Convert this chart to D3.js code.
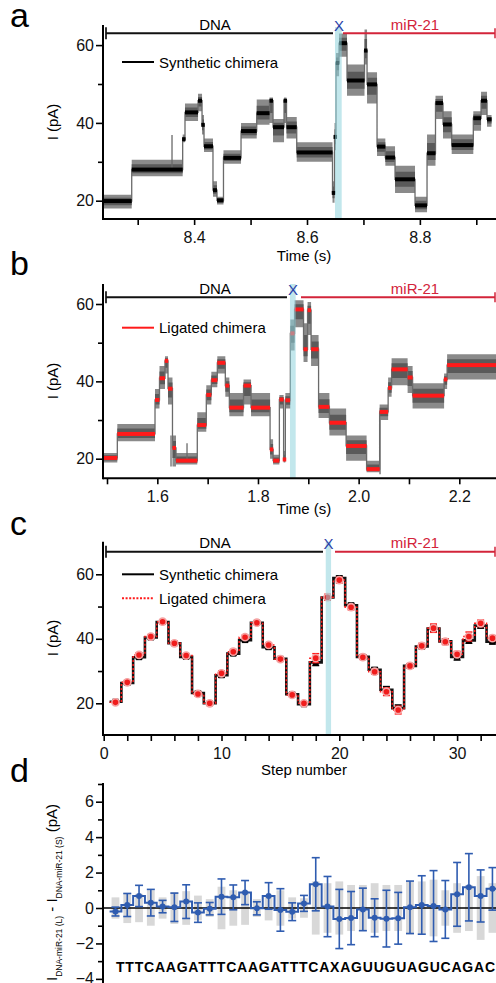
<!DOCTYPE html>
<html>
<head>
<meta charset="utf-8">
<script src="https://cdnjs.cloudflare.com/ajax/libs/d3/7.8.5/d3.min.js"></script>
<style>
  body { margin: 0; background: #fff; }
  svg { display: block; font-family: "Liberation Sans", Arial, sans-serif; }
</style>
</head>
<body>
<svg id="fig" width="496" height="983"></svg>
<script>
// ---- panel a: synthetic chimera trace (segment edges in s, level / noise envelope in pA)
const aEdges = [8.2385, 8.2894, 8.3797, 8.3838, 8.4069, 8.4140, 8.4175, 8.4334, 8.4405, 8.4520, 8.4831,
  8.5109, 8.5336, 8.5398, 8.5593, 8.5637, 8.5818, 8.6452, 8.6488, 8.6514, 8.6568, 8.6709, 8.7019,
  8.7064, 8.7241, 8.7388, 8.7560, 8.7914, 8.8127, 8.8277, 8.8410, 8.8564, 8.8947, 8.9084, 8.9190, 8.9270];
const aLevels = [19.9, 28.0, 35.8, 42.7, 45.7, 39.5, 34.0, 22.7, 20.1, 31.0, 37.9, 42.5, 45.7, 38.9, 45.7,
  38.9, 32.4, 22.0, 36.4, 55.4, 60.5, 50.9, 58.6, 49.9, 33.9, 31.1, 25.5, 18.8, 32.2, 45.1, 39.6, 34.3,
  41.2, 45.7, 40.9];
const aLow = [18.0, 26.3, 35.0, 40.5, 43.0, 37.0, 32.5, 21.0, 19.0, 29.5, 36.0, 39.5, 40.0, 35.0, 40.0,
  36.0, 30.0, 19.5, 33.0, 52.0, 57.0, 47.0, 55.0, 45.0, 31.5, 29.0, 22.0, 17.0, 29.0, 41.0, 36.0, 32.0,
  38.0, 42.0, 39.0];
const aHigh = [21.5, 30.5, 37.0, 45.0, 47.5, 42.0, 36.0, 25.0, 21.0, 33.0, 40.0, 46.0, 46.5, 41.0, 46.5,
  41.5, 35.0, 25.0, 40.0, 58.0, 63.0, 55.0, 64.0, 53.0, 36.0, 34.0, 29.0, 21.0, 37.0, 47.0, 43.0, 37.0,
  43.0, 48.0, 42.0];
const aSpikes = [[8.3608, 28.0, 36.9]];
const aBand = [8.6496, 8.6615];

// ---- panel b: ligated chimera trace
const bEdges = [1.4920, 1.5205, 1.5954, 1.6043, 1.6152, 1.6212, 1.6301, 1.6371, 1.6794, 1.6973, 1.7073,
  1.7192, 1.7351, 1.7431, 1.7713, 1.7862, 1.8240, 1.8300, 1.8425, 1.8509, 1.8544, 1.8643, 1.8727,
  1.8905, 1.8985, 1.9055, 1.9204, 1.9419, 1.9751, 2.0158, 2.0417, 2.0586, 2.0655, 2.0973, 2.1072,
  2.1698, 2.1758, 2.2735];
const bLevels = [20.2, 26.4, 35.2, 40.8, 45.3, 38.1, 22.8, 19.5, 28.7, 36.5, 40.3, 44.8, 38.9, 33.2, 38.9,
  33.2, 22.4, 19.5, 35.3, 19.8, 35.1, 52.4, 58.6, 48.3, 58.4, 48.3, 33.4, 29.3, 23.3, 17.3, 32.1, 38.3,
  43.1, 41.0, 36.3, 40.5, 44.2];
const bLow = [19.0, 24.5, 33.0, 38.0, 42.0, 34.0, 18.0, 18.5, 27.0, 34.0, 38.5, 42.0, 36.0, 31.0, 34.0,
  31.0, 20.0, 18.5, 33.0, 19.0, 33.0, 48.0, 54.0, 45.0, 52.0, 44.0, 30.5, 26.0, 19.5, 16.5, 30.0, 36.0,
  39.0, 37.0, 33.0, 38.0, 40.5];
const bHigh = [21.5, 29.0, 38.0, 44.0, 46.5, 41.0, 26.0, 21.5, 32.0, 39.0, 42.5, 46.5, 41.0, 37.0, 40.5,
  37.0, 25.0, 21.0, 36.5, 22.0, 37.0, 56.0, 61.0, 55.0, 60.5, 52.0, 37.0, 33.0, 26.0, 19.5, 34.0, 41.0,
  46.0, 44.0, 39.5, 42.0, 47.0];
const bSpikes = [[1.6272, 18.0, 26.0], [1.6590, 19.5, 24.0], [2.0425, 16.0, 30.0]];
const bBand = [1.8636, 1.8749];

// ---- panel c: mean current per step
const steps = d3.range(1, 34);
const ligated = [20.3, 26.5, 35.0, 40.7, 45.3, 38.6, 34.8, 22.9, 20.0, 29.3, 36.0, 40.5, 45.0, 38.1, 33.7,
  22.6, 20.0, 34.0, 52.9, 58.2, 49.8, 34.3, 29.8, 23.6, 17.9, 31.6, 37.8, 43.3, 39.1, 35.2, 40.7, 44.8, 40.2];
const ligatedErr = [0.5, 0.6, 0.7, 0.6, 0.5, 0.6, 0.6, 0.6, 0.5, 0.8, 0.7, 0.6, 0.5, 0.6, 0.7, 0.5, 0.5,
  1.4, 0.9, 0.9, 0.8, 0.7, 0.8, 1.2, 1.2, 0.7, 0.8, 1.3, 0.9, 0.9, 1.4, 1.0, 0.8];
const synthetic = [20.5, 26.3, 34.3, 40.4, 45.2, 38.6, 34.4, 23.2, 20.0, 28.7, 35.4, 39.6, 45.0, 37.4, 33.8,
  22.8, 19.7, 32.7, 52.8, 58.8, 50.4, 34.4, 30.4, 24.2, 18.5, 31.6, 37.6, 43.2, 39.2, 34.4, 39.5, 44.1, 39.1];
const syntheticErr = [0.4, 0.5, 0.5, 0.5, 0.4, 0.5, 0.5, 0.5, 0.4, 0.6, 0.5, 0.5, 0.4, 0.5, 0.5, 0.4, 0.4,
  1.0, 0.6, 0.7, 0.6, 0.6, 0.7, 1.0, 1.0, 0.6, 0.6, 1.0, 0.7, 1.0, 0.9, 0.8, 0.7];
const cBand = [18.85, 19.3];

// ---- panel d: difference ligated - synthetic
const diff = [-0.2, 0.17, 0.68, 0.3, 0.08, 0.04, 0.36, -0.26, -0.04, 0.64, 0.6, 0.87, -0.02, 0.68, -0.11,
  -0.21, 0.26, 1.34, 0.08, -0.62, -0.57, -0.08, -0.55, -0.6, -0.58, 0.04, 0.17, 0.11, -0.08, 0.77, 1.17, 0.68, 1.08];
const diffErr = [0.25, 0.65, 0.6, 0.75, 0.35, 0.8, 0.95, 0.55, 0.35, 1.0, 0.7, 0.68, 0.37, 0.75, 1.2, 0.5,
  0.45, 1.5, 1.7, 1.67, 1.5, 1.2, 1.07, 1.6, 1.46, 1.48, 1.65, 2.0, 1.63, 1.8, 1.9, 1.47, 1.2];
const noiseHalf = [0.6, 0.85, 0.8, 1.0, 0.6, 0.9, 0.95, 0.7, 0.5, 1.2, 1.0, 0.95, 0.5, 0.7, 1.0, 0.6, 0.55,
  1.5, 1.4, 1.5, 1.3, 1.3, 1.4, 1.3, 1.3, 1.5, 1.5, 1.6, 1.0, 1.4, 1.3, 1.8, 1.4];
const sequence = 'TTTCAAGATTTCAAGATTTCAXAGUUGUAGUCAGAC';

const RED = '#ff1a1a';
const MIR = '#d3243a';
const BLUE = '#2f5cb0';
const CYAN = '#8fd3dc';

const svg = d3.select('#fig');

// scales
const xA = d3.scaleLinear().domain([8.3, 8.9]).range([137.7, 476.3]);
const yA = d3.scaleLinear().domain([20, 60]).range([200.7, 45.1]);
const xB = d3.scaleLinear().domain([1.5, 2.2]).range([107, 459.3]);
const yB = d3.scaleLinear().domain([20, 60]).range([458.7, 304]);
const xC = d3.scaleLinear().domain([0, 10]).range([103.7, 221.5]);
const yC = d3.scaleLinear().domain([20, 60]).range([703.3, 574.3]);
const yD = d3.scaleLinear().domain([0, 6]).range([908, 801.7]);

function axes(g, o) {
  const left = 103;
  if (o.x) {
    const major = g.append('g').attr('transform', `translate(0,${o.bottom})`)
      .call(d3.axisBottom(o.x).tickValues(o.xMajor).tickSize(6).tickFormat(o.xFormat));
    major.select('.domain').remove();
    major.selectAll('line').attr('stroke-width', 1.6);
    major.selectAll('text').attr('font-size', 16).attr('dy', '0.95em').attr('fill', '#111');
    const minor = g.append('g').attr('transform', `translate(0,${o.bottom})`)
      .call(d3.axisBottom(o.x).tickValues(o.xMinor).tickSize(6).tickFormat(''));
    minor.select('.domain').remove();
    minor.selectAll('line').attr('stroke-width', 1.6);
    g.append('line').attr('x1', left).attr('x2', 496).attr('y1', o.bottom).attr('y2', o.bottom)
      .attr('stroke', '#000').attr('stroke-width', 2);
    g.append('text').attr('x', 304).attr('y', o.bottom + o.titleDy).attr('text-anchor', 'middle')
      .attr('font-size', 15).text(o.xTitle);
  }
  const yMaj = g.append('g').attr('transform', `translate(${left},0)`)
    .call(d3.axisLeft(o.y).tickValues(o.yMajor).tickSize(7).tickFormat(d3.format('d')));
  yMaj.select('.domain').remove();
  yMaj.selectAll('line').attr('stroke-width', 1.6);
  yMaj.selectAll('text').attr('font-size', 16).attr('x', -9).attr('fill', '#111');
  const yMin = g.append('g').attr('transform', `translate(${left},0)`)
    .call(d3.axisLeft(o.y).tickValues(o.yMinor).tickSize(5).tickFormat(''));
  yMin.select('.domain').remove();
  yMin.selectAll('line').attr('stroke-width', 1.6);
  g.append('line').attr('x1', left).attr('x2', left).attr('y1', o.top).attr('y2', o.bottom + 1)
    .attr('stroke', '#000').attr('stroke-width', 2);
}

function yTitle(g, x, y) {
  g.append('text').attr('transform', `translate(${x},${y}) rotate(-90)`)
    .attr('text-anchor', 'middle').attr('font-size', 15).text('I (pA)');
}

function bracket(g, o) {
  g.append('line').attr('x1', 106).attr('x2', 106).attr('y1', o.y - 6).attr('y2', o.y + 6)
    .attr('stroke', '#000').attr('stroke-width', 1.6);
  g.append('line').attr('x1', 106).attr('x2', o.dnaEnd).attr('y1', o.y).attr('y2', o.y)
    .attr('stroke', '#111').attr('stroke-width', 2);
  g.append('line').attr('x1', o.mirStart).attr('x2', 495).attr('y1', o.y).attr('y2', o.y)
    .attr('stroke', MIR).attr('stroke-width', 2);
  g.append('line').attr('x1', 495).attr('x2', 495).attr('y1', o.y - 5).attr('y2', o.y + 5)
    .attr('stroke', MIR).attr('stroke-width', 1.5);
  g.append('text').attr('x', 215).attr('y', o.y - 3.5).attr('text-anchor', 'middle')
    .attr('font-size', 15).text('DNA');
  g.append('text').attr('x', 415).attr('y', o.y - 3.5).attr('text-anchor', 'middle')
    .attr('font-size', 15).attr('fill', MIR).text('miR-21');
  g.append('text').attr('x', o.xMark).attr('y', o.y - 2.5).attr('text-anchor', 'middle')
    .attr('font-size', 15).attr('fill', '#2b3fa8').text('X');
}

function trace(g, x, y, edges, levels, low, high, spikes, barColour) {
  const pts = levels.map((v, i) => ({ t: edges[i], v, lo: low[i], hi: high[i] }));
  pts.push({ ...pts[pts.length - 1], t: edges[edges.length - 1] });
  g.append('path').datum(pts)
    .attr('d', d3.area().curve(d3.curveStepAfter).x(d => x(d.t)).y0(d => y(d.lo)).y1(d => y(d.hi)))
    .attr('fill', '#8a8a8a');
  g.append('path').datum(pts)
    .attr('d', d3.area().curve(d3.curveStepAfter).x(d => x(d.t))
      .y0(d => y(d.v - (d.v - d.lo) * 0.55)).y1(d => y(d.v + (d.hi - d.v) * 0.55)))
    .attr('fill', '#5a5a5a');
  g.append('path').datum(pts)
    .attr('d', d3.line().curve(d3.curveStepAfter).x(d => x(d.t)).y(d => y(d.v)))
    .attr('fill', 'none').attr('stroke', '#6a6a6a').attr('stroke-width', 1.3);
  g.selectAll('line.spike').data(spikes).join('line').attr('class', 'spike')
    .attr('x1', d => x(d[0])).attr('x2', d => x(d[0]))
    .attr('y1', d => y(d[1])).attr('y2', d => y(d[2]))
    .attr('stroke', '#6a6a6a').attr('stroke-width', 1.3);
  g.selectAll('rect.lvl').data(levels).join('rect').attr('class', 'lvl')
    .attr('x', (d, i) => {
      const w = x(edges[i + 1]) - x(edges[i]);
      return w < 3.5 ? (x(edges[i]) + x(edges[i + 1])) / 2 - 1.75 : x(edges[i]);
    })
    .attr('width', (d, i) => Math.max(3.5, x(edges[i + 1]) - x(edges[i])))
    .attr('y', d => y(d) - 2).attr('height', 4)
    .attr('fill', barColour);
}

function band(g, x0, x1, top, bottom) {
  g.append('rect').attr('x', x0).attr('width', x1 - x0).attr('y', top).attr('height', bottom - top)
    .attr('fill', CYAN).attr('opacity', 0.55);
}

function panelLetter(t, y) {
  svg.append('text').attr('x', 10).attr('y', y).attr('font-size', 34).text(t);
}

// ================= panel a
const gA = svg.append('g');
const clipA = svg.append('clipPath').attr('id', 'clipA');
clipA.append('rect').attr('x', 104).attr('y', 20).attr('width', 392).attr('height', 198);
const plotA = gA.append('g').attr('clip-path', 'url(#clipA)');
trace(plotA, xA, yA, aEdges, aLevels, aLow, aHigh, aSpikes, '#000');
band(gA, xA(aBand[0]), xA(aBand[1]), 27, 219);
axes(gA, { x: xA, y: yA, bottom: 219, top: 25, xMajor: [8.4, 8.6, 8.8], xMinor: [8.3, 8.5, 8.7, 8.9],
  xFormat: d3.format('.1f'), yMajor: [20, 40, 60], yMinor: [30, 50], xTitle: 'Time (s)', titleDy: 42 });
yTitle(gA, 58, 122);
bracket(gA, { y: 33.3, dnaEnd: 333, mirStart: 343, xMark: 339 });
gA.append('line').attr('x1', 122).attr('x2', 154).attr('y1', 62).attr('y2', 62)
  .attr('stroke', '#000').attr('stroke-width', 2);
gA.append('text').attr('x', 159).attr('y', 67.5).attr('font-size', 15).text('Synthetic chimera');
panelLetter('a', 27);

// ================= panel b
const gB = svg.append('g');
const clipB = svg.append('clipPath').attr('id', 'clipB');
clipB.append('rect').attr('x', 104).attr('y', 280).attr('width', 392).attr('height', 197);
const plotB = gB.append('g').attr('clip-path', 'url(#clipB)');
trace(plotB, xB, yB, bEdges, bLevels, bLow, bHigh, bSpikes, RED);
band(gB, xB(bBand[0]), xB(bBand[1]), 284, 478.3);
axes(gB, { x: xB, y: yB, bottom: 478.3, top: 284, xMajor: [1.6, 1.8, 2.0, 2.2], xMinor: [1.5, 1.7, 1.9, 2.1],
  xFormat: d3.format('.1f'), yMajor: [20, 40, 60], yMinor: [30, 50], xTitle: 'Time (s)', titleDy: 36 });
yTitle(gB, 58, 381);
bracket(gB, { y: 297.3, dnaEnd: 287, mirStart: 301, xMark: 293 });
gB.append('line').attr('x1', 122).attr('x2', 154).attr('y1', 327.7).attr('y2', 327.7)
  .attr('stroke', RED).attr('stroke-width', 2);
gB.append('text').attr('x', 159).attr('y', 333).attr('font-size', 15).text('Ligated chimera');
panelLetter('b', 275);

// ================= panel c
const gC = svg.append('g');
const stepPts = (vals) => {
  const p = vals.map((v, i) => [steps[i] - 0.5, v]);
  p.push([steps[steps.length - 1] + 0.5, vals[vals.length - 1]]);
  return p;
};
const stepLine = (x, y) => d3.line().curve(d3.curveStepAfter).x(d => x(d[0])).y(d => y(d[1]));
const clipC = svg.append('clipPath').attr('id', 'clipC');
clipC.append('rect').attr('x', 104).attr('y', 540).attr('width', 392).attr('height', 194);
const plotC = gC.append('g').attr('clip-path', 'url(#clipC)');
plotC.append('path').datum(stepPts(synthetic)).attr('d', stepLine(xC, yC))
  .attr('fill', 'none').attr('stroke', '#111').attr('stroke-width', 2.6);
plotC.append('path').datum(stepPts(ligated)).attr('d', stepLine(xC, yC))
  .attr('fill', 'none').attr('stroke', RED).attr('stroke-width', 1.5).attr('stroke-dasharray', '2,2');
// synthetic error bars
steps.forEach((s, i) => {
  const cx = xC(s);
  plotC.append('line').attr('x1', cx).attr('x2', cx)
    .attr('y1', yC(synthetic[i] - syntheticErr[i])).attr('y2', yC(synthetic[i] + syntheticErr[i]))
    .attr('stroke', '#000').attr('stroke-width', 1.4);
  [synthetic[i] - syntheticErr[i], synthetic[i] + syntheticErr[i]].forEach(v => {
    plotC.append('line').attr('x1', cx - 3.5).attr('x2', cx + 3.5).attr('y1', yC(v)).attr('y2', yC(v))
      .attr('stroke', '#000').attr('stroke-width', 1.4);
  });
  plotC.append('rect').attr('x', cx - 3).attr('y', yC(synthetic[i]) - 3).attr('width', 6).attr('height', 6)
    .attr('fill', '#000');
});
// ligated markers
steps.forEach((s, i) => {
  const cx = xC(s);
  plotC.append('line').attr('x1', cx).attr('x2', cx)
    .attr('y1', yC(ligated[i] - ligatedErr[i])).attr('y2', yC(ligated[i] + ligatedErr[i]))
    .attr('stroke', RED).attr('stroke-width', 1.4);
  [ligated[i] - ligatedErr[i], ligated[i] + ligatedErr[i]].forEach(v => {
    plotC.append('line').attr('x1', cx - 3.5).attr('x2', cx + 3.5).attr('y1', yC(v)).attr('y2', yC(v))
      .attr('stroke', RED).attr('stroke-width', 1.4);
  });
  plotC.append('circle').attr('cx', cx).attr('cy', yC(ligated[i])).attr('r', 3.6)
    .attr('fill', '#f01c1c').attr('stroke', '#f5a3a3').attr('stroke-width', 1.6);
});
band(gC, xC(cBand[0]), xC(cBand[1]), 541.7, 735);
axes(gC, { x: xC, y: yC, bottom: 735, top: 541.7, xMajor: [0, 10, 20, 30],
  xMinor: d3.range(2, 34, 2).filter(v => v % 10 !== 0), xFormat: d3.format('d'),
  yMajor: [20, 40, 60], yMinor: [30, 50], xTitle: 'Step number', titleDy: 39.5 });
yTitle(gC, 58, 638);
bracket(gC, { y: 551.7, dnaEnd: 323, mirStart: 335, xMark: 328.5 });
gC.append('line').attr('x1', 122).attr('x2', 154).attr('y1', 574.3).attr('y2', 574.3)
  .attr('stroke', '#000').attr('stroke-width', 2);
gC.append('text').attr('x', 159).attr('y', 579.5).attr('font-size', 15).text('Synthetic chimera');
gC.append('line').attr('x1', 122).attr('x2', 154).attr('y1', 598.3).attr('y2', 598.3)
  .attr('stroke', RED).attr('stroke-width', 2).attr('stroke-dasharray', '2,1.6');
gC.append('text').attr('x', 159).attr('y', 603.5).attr('font-size', 15).text('Ligated chimera');
panelLetter('c', 535);

// ================= panel d
const gD = svg.append('g');
const clipD = svg.append('clipPath').attr('id', 'clipD');
clipD.append('rect').attr('x', 103).attr('y', 780).attr('width', 393).attr('height', 203);
const plotD = gD.append('g').attr('clip-path', 'url(#clipD)');
plotD.selectAll('rect.noise').data(noiseHalf).join('rect').attr('class', 'noise')
  .attr('x', (d, i) => xC(steps[i]) - 3.9).attr('width', 7.8)
  .attr('y', d => yD(d)).attr('height', d => yD(-d) - yD(d))
  .attr('fill', '#d8d8d8');
plotD.append('line').attr('x1', 103).attr('x2', 496).attr('y1', yD(0)).attr('y2', yD(0))
  .attr('stroke', '#000').attr('stroke-width', 1.6);
plotD.append('path').datum(stepPts(diff)).attr('d', stepLine(xC, yD))
  .attr('fill', 'none').attr('stroke', BLUE).attr('stroke-width', 2);
steps.forEach((s, i) => {
  const cx = xC(s);
  const lo = diff[i] - diffErr[i], hi = diff[i] + diffErr[i];
  plotD.append('line').attr('x1', cx).attr('x2', cx).attr('y1', yD(lo)).attr('y2', yD(hi))
    .attr('stroke', BLUE).attr('stroke-width', 1.6);
  [lo, hi].forEach(v => {
    plotD.append('line').attr('x1', cx - 4).attr('x2', cx + 4).attr('y1', yD(v)).attr('y2', yD(v))
      .attr('stroke', BLUE).attr('stroke-width', 1.6);
  });
  plotD.append('circle').attr('cx', cx).attr('cy', yD(diff[i])).attr('r', 3).attr('fill', BLUE);
});
axes(gD, { y: yD, bottom: 983, top: 783, yMajor: [-4, -2, 0, 2, 4, 6], yMinor: [-3, -1, 1, 3, 5, 7] });
gD.select('g').selectAll('text').attr('x', -10);
gD.append('text').attr('x', 116).attr('y', 972).attr('font-size', 14).attr('font-weight', 'bold')
  .attr('textLength', 379).attr('lengthAdjust', 'spacing').text(sequence);
const dTitle = gD.append('text').attr('transform', 'translate(57,981) rotate(-90)')
  .attr('font-size', 15);
dTitle.append('tspan').text('I');
dTitle.append('tspan').attr('font-size', 8.5).attr('dy', 5).text('DNA-miR-21 (L)');
dTitle.append('tspan').attr('dy', -5).text(' - I');
dTitle.append('tspan').attr('font-size', 8.5).attr('dy', 5).text('DNA-miR-21 (S)');
dTitle.append('tspan').attr('dy', -5).text(' (pA)');
panelLetter('d', 782);
</script>
</body>
</html>
